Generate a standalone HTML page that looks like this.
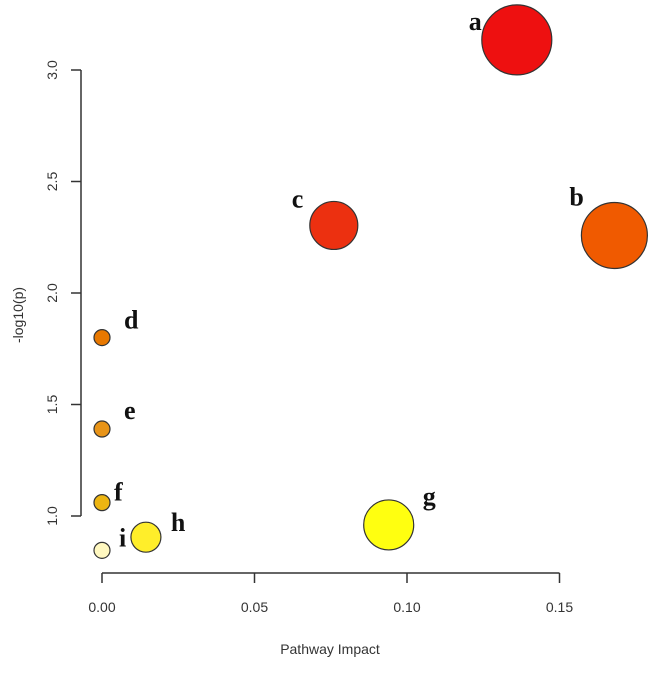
<!DOCTYPE html>
<html><head><meta charset="utf-8"><style>
body{margin:0;background:#fff;}
svg text{font-family:"Liberation Sans",sans-serif;}
</style></head><body>
<svg width="650" height="668" id="chart">
<g id="axes"></g><g id="marks"></g>
</svg>
<script>
const labels=["a","b","c","d","e","f","g","h","i"];
const impact=[0.136,0.168,0.076,0,0,0,0.094,0.0144,0];
const logp=[3.135,2.258,2.303,1.80,1.39,1.06,0.96,0.905,0.846];
const radii=[35,33,24,8,8,8,25,15,8];
const colors=["#ee1010","#f05a00","#ec3010","#e87800","#e89418","#edb512","#ffff10","#ffee2a","#fff8c0"];
const xTicks=[0,0.05,0.10,0.15];
const xTickLabels=["0.00","0.05","0.10","0.15"];
const yTicks=[1.0,1.5,2.0,2.5,3.0];
const yTickLabels=["1.0","1.5","2.0","2.5","3.0"];
const NS="http://www.w3.org/2000/svg";
const X=v=>102+v*3050;
const Y=v=>70+(3-v)*223;
function mk(t,a,p,txt){const e=document.createElementNS(NS,t);for(const k in a)e.setAttribute(k,a[k]);if(txt!==undefined)e.textContent=txt;p.appendChild(e);return e;}
const ax=document.getElementById('axes'),mg=document.getElementById('marks');
let l=mk('line',{x1:X(0),x2:X(0.15),y1:573,y2:573,stroke:'#333','stroke-width':1.5},ax);

xTicks.forEach((t,i)=>{mk('line',{x1:X(t),x2:X(t),y1:573,y2:583,stroke:'#333','stroke-width':1.5},ax);
 const e=mk('text',{x:X(t),y:612,'text-anchor':'middle','font-size':14,fill:'#333'},ax,xTickLabels[i]);
 });
l=mk('line',{x1:81,x2:81,y1:Y(1),y2:Y(3),stroke:'#333','stroke-width':1.5},ax);

yTicks.forEach((t,i)=>{mk('line',{x1:71,x2:81,y1:Y(t),y2:Y(t),stroke:'#333','stroke-width':1.5},ax);
 const e=mk('text',{x:57,y:Y(t),'text-anchor':'middle','font-size':14,fill:'#333',transform:`rotate(-90 57 ${Y(t)})`},ax,yTickLabels[i]);
 });
let e=mk('text',{x:330,y:654,'text-anchor':'middle','font-size':14,fill:'#333'},ax,'Pathway Impact');

e=mk('text',{x:23,y:315,'text-anchor':'middle','font-size':14,fill:'#333',transform:'rotate(-90 23 315)'},ax,'-log10(p)');

const off=[[-48,-10],[-45,-30],[-42,-18],[16,-8],[16,-10],[12,-2],[28,-18],[18,-6],[12,-2]];
off[3]=[22,-9];off[4]=[22,-10];off[6]=[34,-20];off[7]=[25,-6];off[8]=[17,-4];
labels.forEach((lb,i)=>{const cx=X(impact[i]),cy=Y(logp[i]);
 const c=mk('circle',{cx:cx,cy:cy,r:radii[i],fill:colors[i],stroke:'#333','stroke-width':1.2},mg);
 
 const t=mk('text',{x:cx+off[i][0],y:cy+off[i][1],'font-size':26,'font-weight':'bold',fill:'#111'},mg,lb);
 t.style.fontFamily='"Liberation Serif",serif';
 });
</script>
</body></html>
